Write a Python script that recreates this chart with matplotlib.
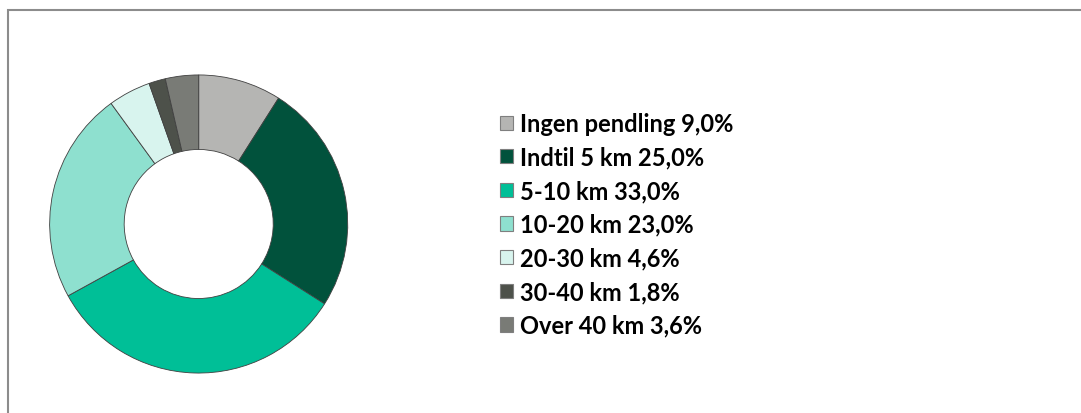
import matplotlib.pyplot as plt
from matplotlib.patches import Rectangle

# -----------------------------------------------------------
# Pendlingsafstand - donut
# -----------------------------------------------------------
categories = ["Ingen pendling", "Indtil 5 km", "5-10 km", "10-20 km",
              "20-30 km", "30-40 km", "Over 40 km"]
shares = [9.0, 25.0, 33.0, 23.0, 4.6, 1.8, 3.6]
colors = ["#b5b5b3", "#01523c", "#00bf97", "#8ee0cf",
          "#d8f4ee", "#4d514a", "#797b76"]

W, H = 1081, 414
fig = plt.figure(figsize=(W / 100, H / 100), dpi=100)

# frame around the chart area (runs off right and bottom)
fig.add_artist(Rectangle((8 / W, -0.1), 1.2, (H - 11) / H + 0.1,
                         transform=fig.transFigure, fill=False,
                         edgecolor="#8c8c8c", lw=1.5))

cx, cy, r = 198.7, H - 225, 149.5
ax = fig.add_axes([(cx - r) / W, (cy - r) / H, 2 * r / W, 2 * r / H])

wedges, _ = ax.pie(shares, colors=colors, startangle=90, counterclock=False,
                   radius=1.0,
                   wedgeprops=dict(width=0.5, edgecolor="#404040", linewidth=0.6))
ax.set_xlim(-1.003, 1.003)
ax.set_ylim(-1.003, 1.003)
ax.set_aspect("equal")
ax.axis("off")

labels = [f"{c} {v:.1f}%".replace(".", ",") for c, v in zip(categories, shares)]
fs = 17
leg = fig.legend(wedges, labels, loc="upper left",
                 bbox_to_anchor=(500 / W, (H - 113) / H),
                 frameon=False, prop=dict(family="Lato", weight="bold", size=fs),
                 handlelength=0.55, handleheight=0.55, handletextpad=0.3,
                 labelspacing=0.45, borderaxespad=0, borderpad=0)
for h in leg.legend_handles:
    h.set_edgecolor("#7f7f7f")
    h.set_linewidth(0.8)

fig.savefig("out.png", dpi=100)
